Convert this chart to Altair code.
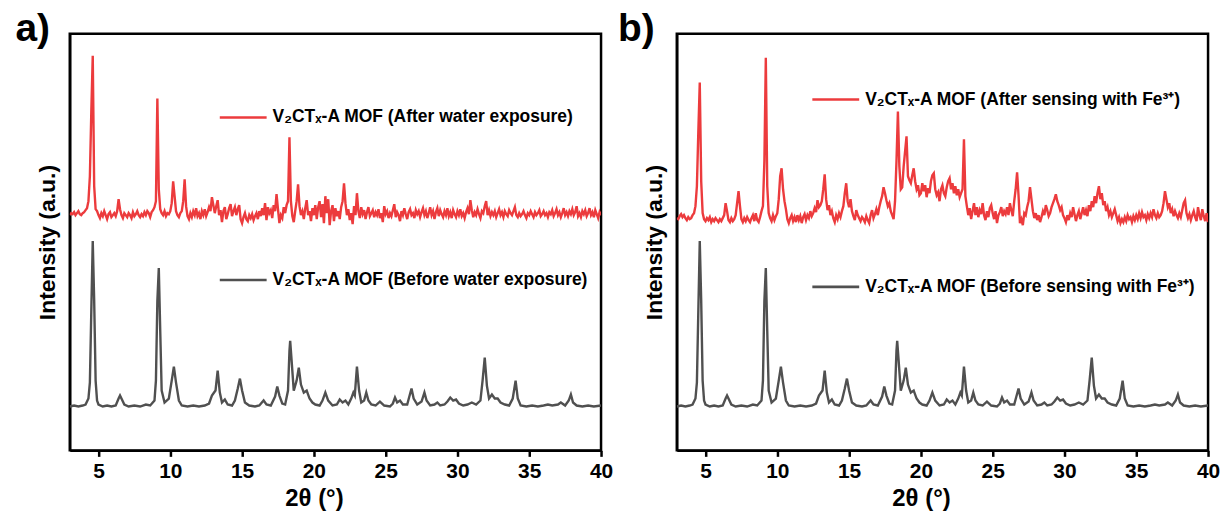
import altair as alt
import pandas as pd

# ---------------- data ----------------
# 2-theta sampling grid of the red scans (0.1 degree steps, 3.0 ... 40.0)
two_theta_grid = [round(3.0 + 0.1 * i, 1) for i in range(371)]

x_ticks = [5, 10, 15, 20, 25, 30, 35, 40]

# Panel a, red: after water exposure (a.u.), one row per degree
red_after_water = [
    236, 238, 237, 239, 236, 238, 240, 237, 236, 238,   # 3
    239, 241, 243, 250, 275, 340, 396, 265, 242, 240,   # 4
    236, 233, 238, 235, 240, 236, 232, 237, 239, 234,   # 5
    236, 238, 235, 240, 252, 242, 236, 233, 238, 236,   # 6
    234, 238, 236, 233, 239, 235, 237, 240, 236, 234,   # 7
    237, 235, 239, 236, 240, 238, 234, 239, 241, 244,   # 8
    250, 353, 262, 242, 238, 236, 240, 235, 238, 237,   # 9
    240, 248, 270, 255, 240, 236, 234, 238, 240, 250,   # 10
    272, 245, 235, 232, 238, 234, 240, 236, 243, 235,   # 11
    238, 232, 240, 236, 242, 235, 239, 244, 240, 254,   # 12
    246, 238, 245, 251, 236, 241, 229, 240, 244, 232,   # 13
    237, 243, 247, 235, 240, 244, 236, 242, 246, 232,   # 14
    228, 234, 238, 232, 230, 236, 233, 237, 231, 235,   # 15
    238, 232, 240, 235, 243, 236, 248, 231, 244, 238,   # 16
    241, 233, 246, 240, 257, 242, 228, 236, 233, 244,   # 17
    238, 246, 250, 314, 250, 235, 229, 240, 250, 267,   # 18
    245, 236, 240, 232, 243, 251, 236, 240, 230, 243,   # 19
    236, 246, 232, 244, 250, 234, 247, 228, 255, 238,   # 20
    252, 226, 240, 246, 230, 243, 235, 240, 232, 244,   # 21
    250, 268, 248, 236, 242, 231, 238, 227, 245, 236,   # 22
    258, 240, 233, 244, 237, 241, 232, 239, 244, 235,   # 23
    238, 241, 234, 239, 236, 242, 233, 238, 229, 245,   # 24
    237, 240, 233, 238, 235, 241, 247, 234, 239, 236,   # 25
    230, 240, 236, 243, 237, 232, 239, 242, 236, 238,   # 26
    233, 241, 237, 240, 234, 239, 243, 236, 240, 233,   # 27
    238, 244, 236, 240, 232, 239, 243, 235, 241, 237,   # 28
    234, 240, 236, 243, 235, 239, 233, 241, 237, 234,   # 29
    240, 236, 242, 235, 238, 233, 239, 243, 237, 251,   # 30
    241, 234, 239, 236, 242, 237, 233, 240, 238, 245,   # 31
    250, 236, 241, 235, 239, 236, 240, 234, 238, 242,   # 32
    236, 239, 234, 240, 237, 235, 241, 238, 236, 240,   # 33
    244, 236, 234, 238, 235, 237, 240, 236, 233, 238,   # 34
    236, 240, 237, 234, 239, 236, 238, 241, 235, 237,   # 35
    240, 236, 238, 234, 239, 237, 241, 235, 238, 242,   # 36
    236, 239, 234, 238, 243, 236, 239, 235, 240, 237,   # 37
    242, 236, 239, 245, 235, 238, 234, 240, 237, 241,   # 38
    235, 238, 243, 236, 239, 234, 241, 237, 233, 239,   # 39
    236,                                                # 40
]

# Panel b, red: after sensing with Fe3+ (a.u.)
red_after_fe = [
    233, 232, 235, 237, 234, 236, 233, 231, 234, 232,   # 3
    233, 236, 238, 245, 265, 320, 369, 270, 238, 232,   # 4
    230, 233, 231, 234, 229, 232, 230, 233, 231, 229,   # 5
    232, 230, 233, 236, 248, 240, 231, 229, 233, 230,   # 6
    232, 236, 248, 260, 245, 232, 229, 233, 230, 234,   # 7
    231, 229, 233, 236, 230, 238, 231, 229, 234, 240,   # 8
    245, 290, 394, 265, 238, 233, 230, 236, 231, 235,   # 9
    238, 252, 275, 283, 262, 250, 242, 232, 228, 233,   # 10
    236, 230, 234, 229, 236, 231, 235, 228, 234, 237,   # 11
    231, 236, 233, 240, 235, 238, 243, 239, 251, 244,   # 12
    246, 250, 262, 277, 252, 241, 246, 236, 240, 233,   # 13
    229, 236, 232, 238, 234, 240, 245, 258, 268, 250,   # 14
    244, 252, 240, 235, 231, 241, 236, 233, 230, 234,   # 15
    232, 229, 235, 231, 228, 236, 241, 233, 237, 242,   # 16
    236, 244, 250, 255, 264, 258, 251, 245, 248, 240,   # 17
    236, 232, 250, 290, 340, 285, 262, 264, 285, 300,   # 18
    315, 275, 271, 268, 276, 283, 270, 262, 266, 256,   # 19
    258, 268, 260, 266, 254, 263, 258, 270, 276, 278,   # 20
    262, 256, 259, 250, 262, 266, 258, 255, 264, 270,   # 21
    273, 262, 268, 258, 265, 256, 262, 254, 258, 262,   # 22
    312, 255, 245, 236, 243, 232, 240, 248, 236, 244,   # 23
    234, 241, 237, 248, 236, 231, 240, 234, 243, 246,   # 24
    238, 232, 240, 228, 236, 239, 244, 235, 240, 237,   # 25
    244, 236, 248, 241, 235, 250, 262, 279, 256, 228,   # 26
    232, 226, 238, 236, 244, 250, 264, 252, 240, 233,   # 27
    238, 231, 236, 229, 234, 240, 236, 246, 241, 235,   # 28
    238, 244, 248, 252, 257, 250, 246, 241, 244, 236,   # 29
    233, 229, 236, 231, 238, 234, 244, 237, 230, 236,   # 30
    240, 232, 238, 244, 236, 241, 235, 246, 240, 250,   # 31
    244, 255, 248, 258, 265, 252, 258, 246, 250, 240,   # 32
    244, 236, 240, 234, 238, 242, 236, 230, 234, 228,   # 33
    232, 229, 234, 230, 236, 232, 234, 229, 235, 231,   # 34
    236, 232, 238, 233, 239, 234, 236, 231, 237, 233,   # 35
    238, 234, 242, 236, 233, 238, 234, 236, 240, 248,   # 36
    260, 252, 244, 248, 238, 242, 235, 240, 236, 233,   # 37
    238, 234, 241, 248, 251, 238, 233, 237, 231, 236,   # 38
    240, 234, 230, 244, 236, 231, 242, 235, 230, 238,   # 39
    229,                                                # 40
]

# Gray: pristine V2CTx-A MOF pattern (same scan in both panels)
gray_x = [
    3.0, 3.3, 3.6, 3.9, 4.1, 4.3, 4.4, 4.5, 4.6, 4.7, 4.8, 4.9, 5.0, 5.3, 5.6, 5.9,
    6.2, 6.4, 6.5, 6.6, 6.8, 7.1, 7.5, 7.9, 8.3, 8.6, 8.9, 9.0, 9.1, 9.2, 9.3, 9.4,
    9.6, 9.9, 10.1, 10.25, 10.4, 10.6, 10.8, 11.2, 11.6, 12.0, 12.4, 12.7, 12.9,
    13.05, 13.15, 13.3, 13.45, 13.6, 13.8, 14.0, 14.3, 14.5, 14.7, 14.85, 15.0, 15.2,
    15.5, 15.9, 16.2, 16.5, 16.7, 17.0, 17.3, 17.45, 17.6, 17.8, 18.0, 18.2, 18.3,
    18.35, 18.45, 18.6, 18.8, 18.95, 19.1, 19.3, 19.5, 19.7, 19.9, 20.1, 20.4, 20.6,
    20.8, 21.0, 21.3, 21.6, 21.8, 22.0, 22.2, 22.4, 22.6, 22.75, 22.85, 23.0, 23.15,
    23.3, 23.5, 23.65, 23.8, 24.0, 24.3, 24.6, 24.9, 25.3, 25.5, 25.65, 25.8, 26.0,
    26.2, 26.5, 26.65, 26.8, 26.95, 27.2, 27.5, 27.7, 27.85, 28.1, 28.4, 28.6, 28.8,
    29.1, 29.3, 29.5, 29.7, 29.9, 30.1, 30.4, 30.7, 31.0, 31.3, 31.6, 31.75, 31.9,
    32.05, 32.2, 32.4, 32.6, 32.8, 33.0, 33.3, 33.6, 33.85, 34.05, 34.2, 34.4, 34.8,
    35.2, 35.6, 36.0, 36.3, 36.6, 37.0, 37.2, 37.5, 37.75, 37.9, 38.05, 38.3, 38.7,
    39.1, 39.5, 40.0,
]
gray_y = [
    44, 45, 44, 45, 46, 52, 68, 140, 210, 150, 70, 50, 46, 44, 45, 44,
    45, 52, 55, 52, 46, 44, 45, 44, 46, 45, 50, 70, 150, 183, 120, 60,
    48, 52, 70, 84, 68, 50, 45, 44, 45, 44, 45, 47, 55,
    58, 60, 80, 58, 48, 51, 46, 45, 50, 62, 72, 60, 48,
    45, 44, 45, 50, 46, 45, 54, 64, 55, 47, 46, 60, 100,
    110, 90, 60, 70, 83, 66, 58, 60, 52, 48, 46, 45, 50,
    58, 50, 45, 46, 51, 48, 50, 46, 52, 58, 55, 84, 60,
    48, 50, 58, 50, 46, 45, 49, 45, 44, 47, 53, 48, 50,
    46, 46, 54, 62, 52, 46, 49, 58, 50, 45, 46, 48, 45,
    46, 49, 53, 50, 51, 47, 45, 46, 48, 46, 50, 70, 93,
    65, 52, 56, 52, 52, 48, 46, 45, 52, 70, 52, 45, 44,
    45, 44, 45, 46, 45, 46, 48, 45, 50, 56, 48, 45, 44,
    45, 44, 45,
]

assert len(red_after_water) == len(two_theta_grid)
assert len(red_after_fe) == len(two_theta_grid)
assert len(gray_x) == len(gray_y)

# ---------------- style ----------------
FONT = "Liberation Sans"
RED = "#EC3B3D"
GRAY = "#505050"
W, H = 533, 418


def panel(red_vals, red_label, gray_label, tag, leg_x, leg_red_y, leg_gray_y, tag_x):
    df = pd.concat([
        pd.DataFrame({"theta": two_theta_grid, "intensity": red_vals, "series": red_label}),
        pd.DataFrame({"theta": gray_x, "intensity": gray_y, "series": gray_label}),
    ], ignore_index=True)

    x = alt.X("theta:Q",
              scale=alt.Scale(domain=[3, 40], nice=False, zero=False),
              axis=alt.Axis(values=x_ticks, title="2θ (°)", labelFlush=False,
                            titleX=245, titleAlign="center"))
    y = alt.Y("intensity:Q",
              scale=alt.Scale(domain=[0, 418], nice=False, zero=False),
              axis=alt.Axis(title="Intensity (a.u.)", labels=False, ticks=False))

    lines = alt.Chart(df).mark_line(strokeWidth=2.4, clip=True).encode(
        x=x, y=y,
        color=alt.Color("series:N",
                        scale=alt.Scale(domain=[red_label, gray_label], range=[RED, GRAY]),
                        legend=None),
    )

    def legend_entry(label, color, ypos):
        one = pd.DataFrame({"label": [label]})
        rule = alt.Chart(one).mark_rule(color=color, strokeWidth=2.6).encode(
            x=alt.value(leg_x), x2=alt.value(leg_x + 47), y=alt.value(ypos))
        txt = alt.Chart(one).mark_text(
            align="left", baseline="middle", font=FONT, fontSize=17.5,
            fontWeight="bold", color="black").encode(
            text="label:N", x=alt.value(leg_x + 53), y=alt.value(ypos))
        return rule + txt

    tag_df = pd.DataFrame({"tag": [tag]})
    tag_txt = alt.Chart(tag_df).mark_text(
        align="left", baseline="alphabetic", font=FONT, fontSize=39,
        fontWeight="bold", color="black").encode(
        text="tag:N", x=alt.value(tag_x), y=alt.value(7))

    return alt.layer(
        lines,
        legend_entry(red_label, RED, leg_red_y),
        legend_entry(gray_label, GRAY, leg_gray_y),
        tag_txt,
    ).properties(width=W, height=H)


panel_a = panel(red_after_water,
                "V₂CTₓ-A MOF (After water exposure)",
                "V₂CTₓ-A MOF (Before water exposure)",
                "a)", 150.5, 84, 247, -54.5)
panel_b = panel(red_after_fe,
                "V₂CTₓ-A MOF (After sensing with Fe³⁺)",
                "V₂CTₓ-A MOF (Before sensing with Fe³⁺)",
                "b)", 136, 66, 254, -59)

chart = alt.hconcat(panel_a, panel_b, spacing=76, bounds="flush").resolve_scale(
    color="independent"
).properties(
    padding={"left": 14, "top": 7, "right": 4, "bottom": 4},
    background="white",
).configure_view(
    stroke="black", strokeWidth=2.5
).configure_axis(
    grid=False,
    domainColor="black", domainWidth=2.5,
    tickColor="black", tickWidth=2.5, tickSize=6,
    labelFont=FONT, labelFontSize=21, labelFontWeight="bold", labelColor="black",
    labelPadding=4,
    titleFont=FONT, titleFontSize=24, titleFontWeight="bold", titleColor="black",
    titlePadding=5,
).configure_axisY(
    titleFontSize=23, titlePadding=10,
)

chart.save("out.html", embed_options={"renderer": "svg", "actions": False})
